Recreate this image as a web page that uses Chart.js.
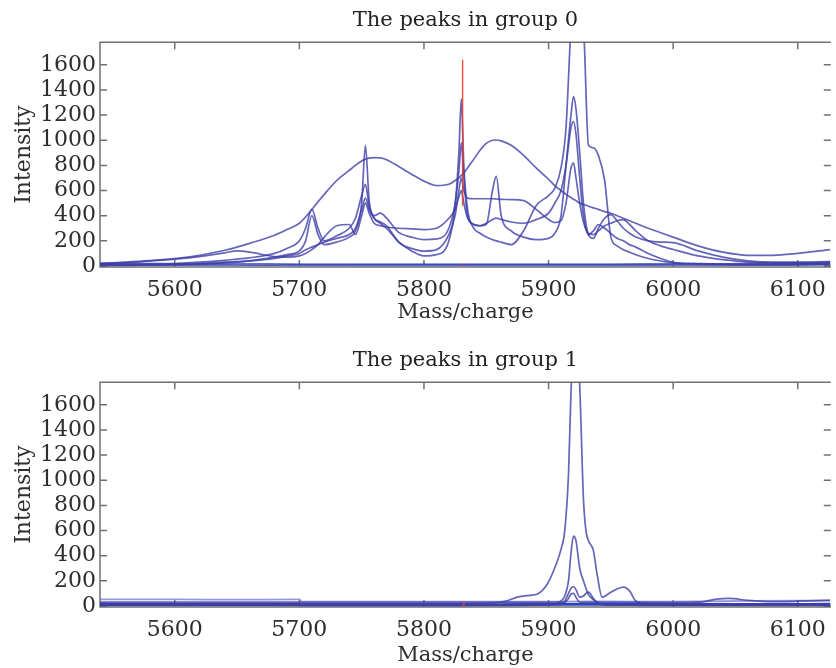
<!DOCTYPE html>
<html>
<head>
<meta charset="utf-8">
<title>The peaks in group 0 / 1</title>
<script src="https://cdn.jsdelivr.net/npm/chart.js@4.4.1/dist/chart.umd.min.js"></script>
<style>
  html, body { margin: 0; padding: 0; background: #fff; overflow: hidden; }
  #top { position: absolute; left: 0; top: 0; }
  #bottom { position: absolute; left: 0; top: 340px; }
</style>
</head>
<body>
<canvas id="top" width="836" height="334"></canvas>
<canvas id="bottom" width="836" height="328"></canvas>
<script>
// axis ticks
var xTicks = [5600, 5700, 5800, 5900, 6000, 6100]
var yTicks = [0, 200, 400, 600, 800, 1000, 1200, 1400, 1600]

// group 0, shared m/z grid
var mzTop = [5540, 5560, 5580, 5600, 5620, 5640, 5650, 5660, 5680, 5690,
             5700, 5705, 5710, 5715, 5720, 5730, 5740, 5745, 5750, 5753,
             5756, 5760, 5765, 5770, 5780, 5790, 5800, 5810, 5820, 5825,
             5828, 5830, 5832, 5835, 5840, 5845, 5850, 5855, 5858, 5862,
             5870, 5880, 5890, 5900, 5905, 5910, 5914, 5918, 5920, 5922,
             5925, 5928, 5932, 5936, 5940, 5945, 5950, 5955, 5960, 5965,
             5970, 5980, 5990, 6000, 6020, 6040, 6060, 6080, 6100, 6126]
// broad double hump
var g0a = [20, 30, 42, 58, 85, 125, 150, 180, 245, 290,
           340, 390, 450, 510, 570, 680, 760, 800, 835, 850,
           858, 862, 860, 845, 790, 730, 675, 640, 650, 680,
           700, 720, 740, 780, 850, 920, 975, 1000, 1002, 995,
           960, 880, 780, 690, 640, 600, 570, 545, 530, 520,
           500, 490, 475, 462, 450, 432, 420, 400, 380, 360,
           340, 300, 265, 230, 160, 110, 85, 85, 100, 130]
// the one going off the top at 5920
var g0b = [5, 5, 8, 10, 15, 25, 30, 40, 70, 90,
           120, 200, 400, 250, 170, 190, 230, 280, 500, 960,
           520, 380, 340, 300, 190, 120, 80, 90, 200, 480,
           900, 1330, 800, 450, 300, 260, 230, 210, 200, 190,
           170, 280, 480, 560, 620, 780, 1100, 1900, 2100, 2100,
           2000, 1900, 960, 940, 880, 680, 230, 160, 130, 110,
           90, 60, 40, 25, 15, 12, 10, 10, 12, 15]
var g0c = [10, 12, 15, 20, 30, 45, 55, 65, 100, 140,
           200, 300, 450, 300, 200, 240, 300, 380, 560, 650,
           480, 400, 420, 380, 265, 230, 210, 215, 300, 500,
           750, 980, 700, 400, 330, 320, 330, 600, 713, 400,
           280, 230, 210, 220, 260, 400, 800, 1200, 1348, 1250,
           900, 500, 250, 220, 300, 380, 409, 360, 300, 260,
           230, 200, 190, 186, 120, 70, 40, 30, 30, 35]
var g0d = [8, 10, 12, 15, 20, 30, 35, 40, 60, 80,
           100, 130, 150, 170, 190, 220, 250, 300, 450, 540,
           450, 380, 350, 320, 186, 140, 118, 130, 250, 400,
           600, 700, 600, 540, 535, 535, 535, 535, 533, 530,
           528, 520, 450, 370, 345, 360, 500, 780, 819, 700,
           500, 350, 260, 250, 280, 320, 340, 360, 369, 330,
           280, 200, 160, 131, 80, 50, 30, 25, 25, 30]
var g0e = [15, 25, 40, 55, 75, 105, 120, 110, 75, 70,
           80, 100, 130, 170, 230, 320, 330, 250, 400, 500,
           420, 340, 320, 310, 300, 295, 290, 300, 380, 450,
           550, 600, 500, 380, 330, 320, 340, 370, 380, 370,
           350, 340, 369, 420, 500, 600, 800, 1100, 1149, 1050,
           700, 400, 250, 280, 330, 300, 260, 220, 200, 170,
           150, 100, 60, 30, 20, 15, 15, 15, 15, 15]
// group 0 flat lines along the bottom
var flatMzTop = [5540, 5600, 5650, 5700, 5750, 5800, 5850, 5900, 5950, 6000, 6050, 6126]
var g0flat1 = [14, 12, 12, 10, 10, 10, 10, 10, 10, 12, 12, 14]
var g0flat2 = [25, 20, 15, 4, 3, 3, 3, 3, 3, 5, 20, 30]
// red marker
var markMzTop = [5831, 5831, 5831, 5832, 5832]
var markTop = [480, 1640, null, 0, 18]

// group 1, shared m/z grid
var mzBot = [5540, 5580, 5620, 5660, 5700, 5702, 5740, 5780, 5820, 5850,
             5866, 5875, 5885, 5891, 5899, 5906, 5910, 5913, 5916, 5918,
             5920, 5922, 5925, 5928, 5930, 5932, 5936, 5939, 5943, 5950,
             5955, 5960, 5965, 5970, 5980, 6000, 6020, 6035, 6045, 6060,
             6080, 6100, 6126]
var g1a = [20, 20, 20, 20, 20, 18, 18, 18, 18, 20,
           40, 70, 85, 95, 175, 330, 450, 600, 1050, 1700,
           2100, 2200, 1750, 850, 600, 520, 440, 250, 70, 110,
           135, 150, 120, 40, 20, 18, 18, 18, 18, 18,
           18, 18, 18]
var g1b = [10, 10, 10, 10, 10, 8, 8, 8, 8, 10,
           10, 12, 12, 14, 15, 20, 40, 80, 200, 420,
           556, 520, 300, 200, 140, 90, 50, 30, 15, 10,
           10, 10, 10, 10, 10, 10, 10, 10, 10, 10,
           10, 10, 10]
var g1c = [5, 5, 5, 5, 5, 5, 5, 5, 5, 5,
           5, 5, 6, 6, 8, 10, 15, 40, 100, 140,
           155, 130, 70, 80, 100, 110, 60, 25, 10, 8,
           6, 6, 6, 6, 5, 5, 5, 5, 5, 5,
           5, 5, 5]
var g1d = [30, 30, 30, 30, 30, 28, 28, 28, 28, 28,
           28, 28, 28, 28, 28, 28, 28, 30, 60, 95,
           100, 70, 30, 28, 28, 28, 28, 28, 28, 28,
           28, 28, 28, 28, 28, 28, 30, 55, 60, 45,
           35, 38, 45]
var flatMzBot = [5540, 5600, 5650, 5700, 5702, 5760, 5820, 5880, 5940, 6000, 6060, 6126]
var g1flat1 = [52, 52, 50, 52, 35, 35, 34, 35, 36, 35, 40, 45]
var g1flat2 = [12, 12, 12, 12, 10, 10, 10, 12, 14, 12, 12, 14]
var markMzBot = [5832, 5832]
var markBot = [0, 28]

var SPEC = 'rgba(62, 62, 168, 0.8)'
var FLAT_DARK = 'rgba(32, 58, 178, 0.95)'
var FLAT_LIGHT = 'rgba(115, 115, 205, 0.75)'
var RED = 'rgba(236, 58, 36, 0.9)'

Chart.defaults.font.family = "'DejaVu Serif', serif"
Chart.defaults.font.size = 22
Chart.defaults.color = '#2e2e2e'

function pairs (mz, vals) {
  return mz.map(function (m, i) { return {x: m, y: vals[i]} })
}

function line (mz, vals, color, width) {
  return {
    data: pairs(mz, vals),
    borderColor: color,
    borderWidth: width,
    pointRadius: 0,
    cubicInterpolationMode: 'monotone',
    spanGaps: false,
    fill: false
  }
}

// box round the plot with inward ticks on all four sides
var frameTicks = {
  id: 'frameTicks',
  beforeDatasetsDraw: function (chart) {
    var ctx = chart.ctx
    var area = chart.chartArea
    var xs = chart.scales.x
    var ys = chart.scales.y
    var len = 7
    ctx.save()
    ctx.strokeStyle = '#707070'
    ctx.lineWidth = 1.5
    ctx.beginPath()
    ctx.moveTo(area.right, area.top)
    ctx.lineTo(area.left, area.top)
    ctx.lineTo(area.left, area.bottom)
    ctx.lineTo(area.right, area.bottom)
    xs.ticks.forEach(function (t) {
      var px = xs.getPixelForValue(t.value)
      ctx.moveTo(px, area.bottom)
      ctx.lineTo(px, area.bottom - len)
      ctx.moveTo(px, area.top)
      ctx.lineTo(px, area.top + len)
    })
    ys.ticks.forEach(function (t) {
      var py = ys.getPixelForValue(t.value)
      ctx.moveTo(area.left, py)
      ctx.lineTo(area.left + len, py)
      ctx.moveTo(area.right, py)
      ctx.lineTo(area.right - len, py)
    })
    ctx.stroke()
    ctx.restore()
  }
}

function drawGroup (id, title, datasets, xTitlePad) {
  var canvas = document.getElementById(id)
  var xHeight = canvas.height - 267
  return new Chart(canvas.getContext('2d'), {
    type: 'line',
    data: {datasets: datasets},
    plugins: [frameTicks],
    options: {
      responsive: false,
      animation: false,
      layout: {padding: 0},
      plugins: {
        legend: {display: false},
        tooltip: {enabled: false},
        title: {
          display: true,
          text: title,
          fullSize: false,
          color: '#222',
          font: {size: 21, weight: 'normal'},
          padding: {top: 8, bottom: 9}
        }
      },
      scales: {
        x: {
          type: 'linear',
          min: 5540,
          max: 6126.5,
          grid: {display: false, drawTicks: false},
          border: {display: false},
          afterFit: function (s) { s.height = xHeight },
          afterBuildTicks: function (s) { s.ticks = xTicks.map(function (v) { return {value: v} }) },
          ticks: {
            autoSkip: false,
            maxRotation: 0,
            padding: 10,
            callback: function (v) { return String(v) }
          },
          title: {display: true, text: 'Mass/charge', font: {size: 21}, padding: {top: 0, bottom: xTitlePad}}
        },
        y: {
          type: 'linear',
          min: -8,
          max: 1780,
          grid: {display: false, drawTicks: false},
          border: {display: false},
          afterFit: function (s) { s.width = 100 },
          afterBuildTicks: function (s) { s.ticks = yTicks.map(function (v) { return {value: v} }) },
          ticks: {
            autoSkip: false,
            padding: 4,
            callback: function (v) { return String(v) }
          },
          title: {display: true, text: 'Intensity', padding: {top: 11, bottom: 0}}
        }
      }
    }
  })
}

drawGroup('top', 'The peaks in group 0', [
  line(markMzTop, markTop, RED, 1.4),
  line(mzTop, g0b, SPEC, 1.7),
  line(mzTop, g0c, SPEC, 1.7),
  line(mzTop, g0d, SPEC, 1.7),
  line(mzTop, g0e, SPEC, 1.7),
  line(mzTop, g0a, SPEC, 1.7),
  line(flatMzTop, g0flat2, FLAT_LIGHT, 1.6),
  line(flatMzTop, g0flat1, FLAT_DARK, 2.6)
], 9)

drawGroup('bottom', 'The peaks in group 1', [
  line(markMzBot, markBot, RED, 2),
  line(mzBot, g1a, SPEC, 1.7),
  line(mzBot, g1b, SPEC, 1.7),
  line(mzBot, g1c, SPEC, 1.7),
  line(mzBot, g1d, SPEC, 1.7),
  line(flatMzBot, g1flat1, FLAT_LIGHT, 1.8),
  line(flatMzBot, g1flat2, FLAT_DARK, 2.8)
], 0)
</script>
</body>
</html>
